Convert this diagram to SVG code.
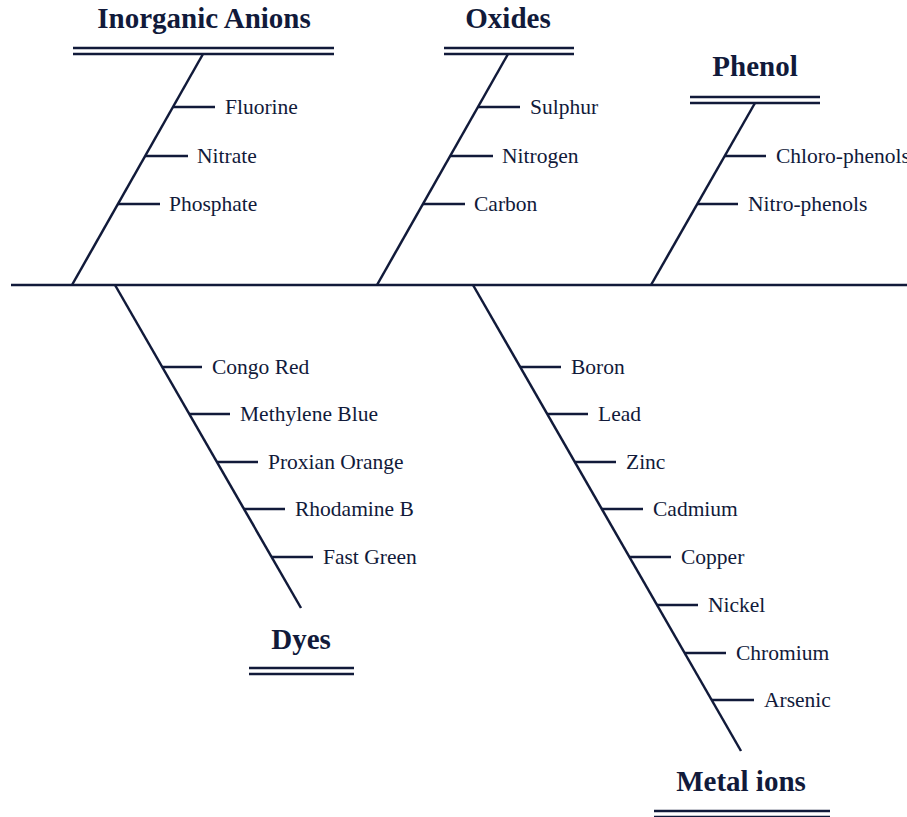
<svg xmlns="http://www.w3.org/2000/svg" width="907" height="817" viewBox="0 0 907 817">
<style>
line{stroke:#111a3a;stroke-width:2.5;fill:none}
.t{font-family:"Liberation Serif","Times New Roman",serif;font-weight:bold;font-size:29px;fill:#111a3a;text-anchor:middle}
.l{font-family:"Liberation Serif","Times New Roman",serif;font-size:21.5px;fill:#111a3a}
</style>
<rect width="907" height="817" fill="#fff"/>
<g id="connectors">
<line x1="11" y1="285" x2="907" y2="285"/>
<line x1="203" y1="54" x2="72" y2="285"/>
<line x1="508" y1="54" x2="377" y2="285"/>
<line x1="755" y1="103" x2="651" y2="285"/>
<line x1="115" y1="285" x2="301" y2="608"/>
<line x1="473" y1="285" x2="741" y2="751"/>
</g>
<g id="inorganic-anions">
<text class="t" x="204" y="28">Inorganic Anions</text>
<line x1="73" y1="48" x2="334" y2="48"/><line x1="73" y1="54" x2="334" y2="54"/>
<line x1="173" y1="107" x2="215" y2="107"/><text class="l" x="225" y="114">Fluorine</text>
<line x1="145" y1="156" x2="188" y2="156"/><text class="l" x="197" y="163">Nitrate</text>
<line x1="118" y1="204" x2="160" y2="204"/><text class="l" x="169" y="211">Phosphate</text>
</g>
<g id="oxides">
<text class="t" x="508" y="28">Oxides</text>
<line x1="444" y1="48" x2="574" y2="48"/><line x1="444" y1="54" x2="574" y2="54"/>
<line x1="478" y1="107" x2="520" y2="107"/><text class="l" x="530" y="114">Sulphur</text>
<line x1="450" y1="156" x2="493" y2="156"/><text class="l" x="502" y="163">Nitrogen</text>
<line x1="423" y1="204" x2="465" y2="204"/><text class="l" x="474" y="211">Carbon</text>
</g>
<g id="phenol">
<text class="t" x="755" y="76">Phenol</text>
<line x1="690" y1="97" x2="820" y2="97"/><line x1="690" y1="103" x2="820" y2="103"/>
<line x1="725" y1="156" x2="766" y2="156"/><text class="l" x="776" y="163">Chloro-phenols</text>
<line x1="697" y1="204" x2="738" y2="204"/><text class="l" x="748" y="211">Nitro-phenols</text>
</g>
<g id="dyes">
<text class="t" x="301" y="649">Dyes</text>
<line x1="249" y1="668" x2="354" y2="668"/><line x1="249" y1="674" x2="354" y2="674"/>
<line x1="162" y1="367" x2="202" y2="367"/><text class="l" x="212" y="374">Congo Red</text>
<line x1="189" y1="414" x2="230" y2="414"/><text class="l" x="240" y="421">Methylene Blue</text>
<line x1="217" y1="462" x2="258" y2="462"/><text class="l" x="268" y="469">Proxian Orange</text>
<line x1="244" y1="509" x2="285" y2="509"/><text class="l" x="295" y="516">Rhodamine B</text>
<line x1="272" y1="557" x2="313" y2="557"/><text class="l" x="323" y="564">Fast Green</text>
</g>
<g id="metal-ions">
<text class="t" x="741" y="791">Metal ions</text>
<line x1="654" y1="811" x2="830" y2="811"/><line x1="654" y1="817" x2="830" y2="817"/>
<line x1="520" y1="367" x2="561" y2="367"/><text class="l" x="571" y="374">Boron</text>
<line x1="547" y1="414" x2="588" y2="414"/><text class="l" x="598" y="421">Lead</text>
<line x1="575" y1="462" x2="616" y2="462"/><text class="l" x="626" y="469">Zinc</text>
<line x1="602" y1="509" x2="643" y2="509"/><text class="l" x="653" y="516">Cadmium</text>
<line x1="629" y1="557" x2="671" y2="557"/><text class="l" x="681" y="564">Copper</text>
<line x1="657" y1="605" x2="698" y2="605"/><text class="l" x="708" y="612">Nickel</text>
<line x1="685" y1="653" x2="726" y2="653"/><text class="l" x="736" y="660">Chromium</text>
<line x1="712" y1="700" x2="754" y2="700"/><text class="l" x="764" y="707">Arsenic</text>
</g>
</svg>
